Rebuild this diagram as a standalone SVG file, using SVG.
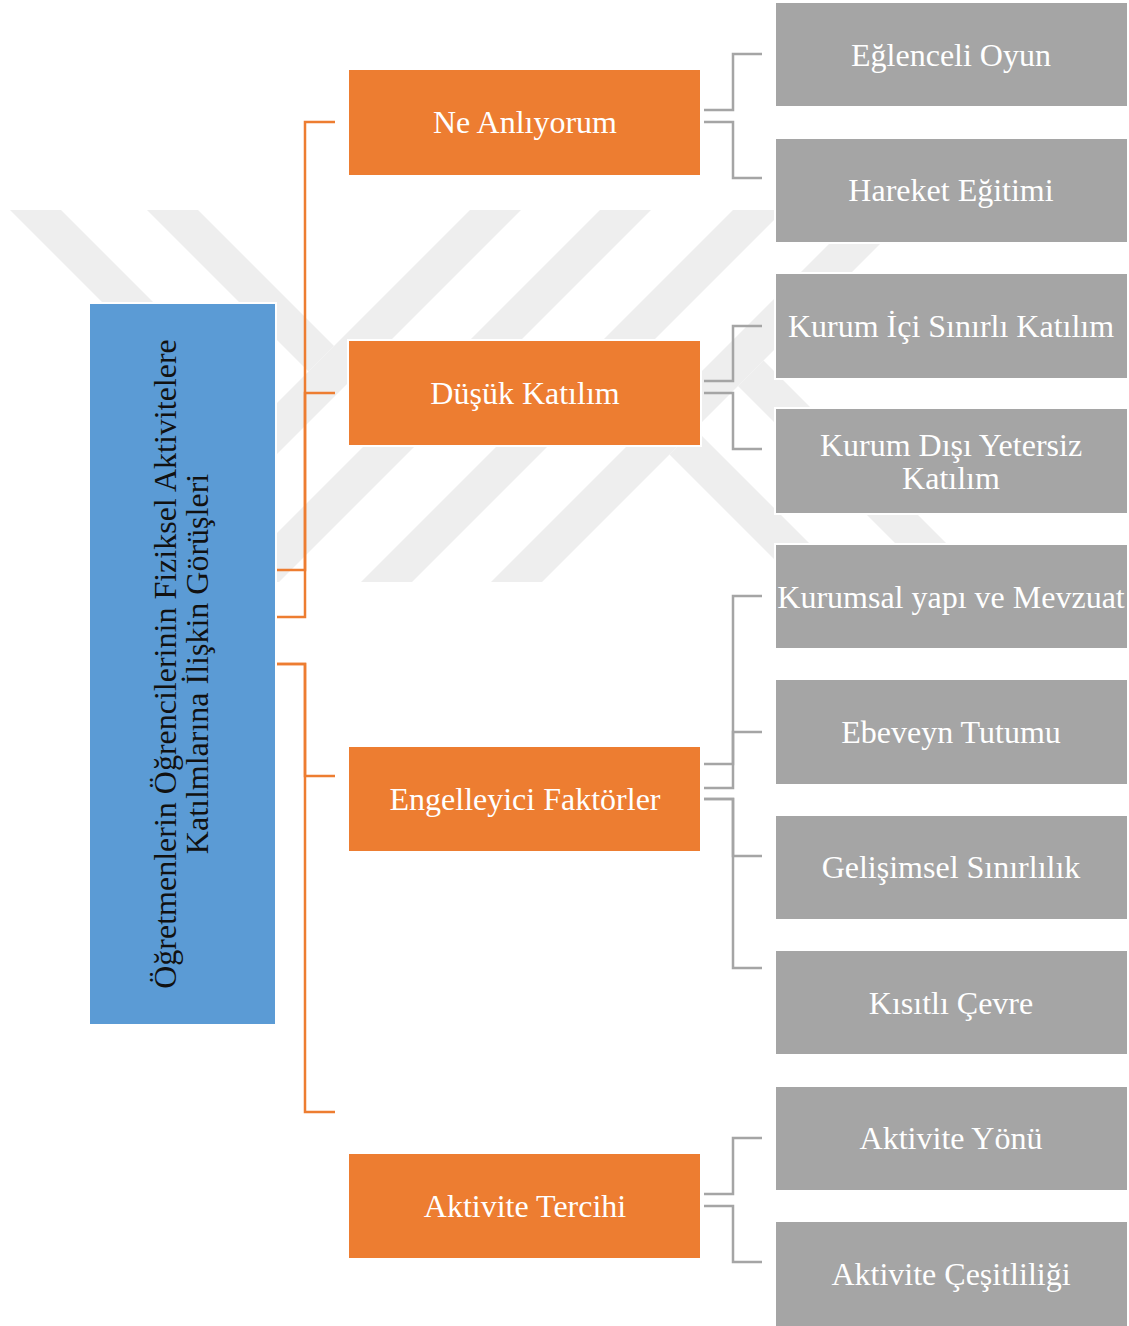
<svg xmlns="http://www.w3.org/2000/svg" width="1129" height="1326" viewBox="0 0 1129 1326">
  <style>
    .root { fill: #5B9BD5; stroke: #ffffff; stroke-width: 2; }
    .cat { fill: #ED7D31; stroke: #ffffff; stroke-width: 2; }
    .leaf { fill: #A5A5A5; stroke: #ffffff; stroke-width: 2; }
    .lbl { font-family: "Liberation Serif", "Times New Roman", serif; font-size: 32px; fill: #ffffff; text-anchor: middle; }
    .rootlbl { font-family: "Liberation Serif", "Times New Roman", serif; font-size: 32px; fill: #111111; text-anchor: middle; }
    .orange { fill: none; stroke: #ED7D31; stroke-width: 2.5; }
    .gray { fill: none; stroke: #A5A5A5; stroke-width: 2.5; }
    .wm { fill: #eeeeee; stroke: none; }
  </style>

  <rect width="1129" height="1326" fill="#ffffff"/>

  <!-- faint background emblem: diagonal bands -->
  <g id="watermark">
    <!-- rising bands -->
    <polygon class="wm" points="470,210 521,210 149,582 98,582"/>
    <polygon class="wm" points="600,210 651,210 279,582 228,582"/>
    <polygon class="wm" points="733,210 784,210 412,582 361,582"/>
    <polygon class="wm" points="863,210 914,210 542,582 491,582"/>
    <!-- falling legs -->
    <polygon class="wm" points="10,210 61,210 265.5,414.5 240,440"/>
    <polygon class="wm" points="147,210 198,210 334,346 308.5,371.5"/>
    <polygon class="wm" points="669.5,454.5 695,429 848,582 797,582"/>
    <polygon class="wm" points="738,386 763.5,360.5 985,582 934,582"/>
  </g>

  <!-- connectors -->
  <g id="connectors">
    <!-- root to categories -->
    <polyline class="orange" points="276,617 305,617 305,122 335,122"/>
    <polyline class="orange" points="276,570 305,570 305,393 335,393"/>
    <polyline class="orange" points="276,664 305,664 305,776 335,776"/>
    <polyline class="orange" points="276,664 305,664 305,1112 335,1112"/>
    <!-- Ne Anlıyorum -->
    <polyline class="gray" points="704,110 733,110 733,54 762,54"/>
    <polyline class="gray" points="704,122 733,122 733,178 762,178"/>
    <!-- Düşük Katılım -->
    <polyline class="gray" points="704,381 733,381 733,326 762,326"/>
    <polyline class="gray" points="704,393 733,393 733,449 762,449"/>
    <!-- Engelleyici Faktörler -->
    <polyline class="gray" points="704,764 733,764 733,596 762,596"/>
    <polyline class="gray" points="704,788 733,788 733,732 762,732"/>
    <polyline class="gray" points="704,799 733,799 733,856 762,856"/>
    <polyline class="gray" points="704,799 733,799 733,968 762,968"/>
    <!-- Aktivite Tercihi -->
    <polyline class="gray" points="704,1194 733,1194 733,1138 762,1138"/>
    <polyline class="gray" points="704,1206 733,1206 733,1262 762,1262"/>
  </g>

  <!-- root -->
  <g id="root">
    <rect class="root" x="89" y="303" width="187" height="722"/>
    <text class="rootlbl" transform="translate(176,664) rotate(-90)">Öğretmenlerin Öğrencilerinin Fiziksel Aktivitelere</text>
    <text class="rootlbl" transform="translate(208,664) rotate(-90)">Katılmlarına İlişkin Görüşleri</text>
  </g>

  <!-- categories -->
  <g id="ne-anliyorum">
    <rect class="cat" x="348" y="69" width="353" height="107"/>
    <text class="lbl" x="525" y="133">Ne Anlıyorum</text>
  </g>
  <g id="dusuk-katilim">
    <rect class="cat" x="348" y="340" width="353" height="106"/>
    <text class="lbl" x="525" y="404">Düşük Katılım</text>
  </g>
  <g id="engelleyici-faktorler">
    <rect class="cat" x="348" y="746" width="353" height="106"/>
    <text class="lbl" x="525" y="810">Engelleyici Faktörler</text>
  </g>
  <g id="aktivite-tercihi">
    <rect class="cat" x="348" y="1153" width="353" height="106"/>
    <text class="lbl" x="525" y="1217">Aktivite Tercihi</text>
  </g>

  <!-- leaves -->
  <g id="eglenceli-oyun">
    <rect class="leaf" x="775" y="2" width="353" height="105"/>
    <text class="lbl" x="951" y="66">Eğlenceli Oyun</text>
  </g>
  <g id="hareket-egitimi">
    <rect class="leaf" x="775" y="138" width="353" height="105"/>
    <text class="lbl" x="951" y="201">Hareket Eğitimi</text>
  </g>
  <g id="kurum-ici">
    <rect class="leaf" x="775" y="273" width="353" height="106"/>
    <text class="lbl" x="951" y="337">Kurum İçi Sınırlı Katılım</text>
  </g>
  <g id="kurum-disi">
    <rect class="leaf" x="775" y="408" width="353" height="106"/>
    <text class="lbl" x="951" y="456">Kurum Dışı Yetersiz</text>
    <text class="lbl" x="951" y="489">Katılım</text>
  </g>
  <g id="kurumsal-yapi">
    <rect class="leaf" x="775" y="544" width="353" height="105"/>
    <text class="lbl" x="951" y="608">Kurumsal yapı ve Mevzuat</text>
  </g>
  <g id="ebeveyn-tutumu">
    <rect class="leaf" x="775" y="679" width="353" height="106"/>
    <text class="lbl" x="951" y="743">Ebeveyn Tutumu</text>
  </g>
  <g id="gelisimsel">
    <rect class="leaf" x="775" y="815" width="353" height="105"/>
    <text class="lbl" x="951" y="878">Gelişimsel Sınırlılık</text>
  </g>
  <g id="kisitli-cevre">
    <rect class="leaf" x="775" y="950" width="353" height="105"/>
    <text class="lbl" x="951" y="1014">Kısıtlı Çevre</text>
  </g>
  <g id="aktivite-yonu">
    <rect class="leaf" x="775" y="1086" width="353" height="105"/>
    <text class="lbl" x="951" y="1149">Aktivite Yönü</text>
  </g>
  <g id="aktivite-cesitliligi">
    <rect class="leaf" x="775" y="1221" width="353" height="106"/>
    <text class="lbl" x="951" y="1285">Aktivite Çeşitliliği</text>
  </g>
</svg>
